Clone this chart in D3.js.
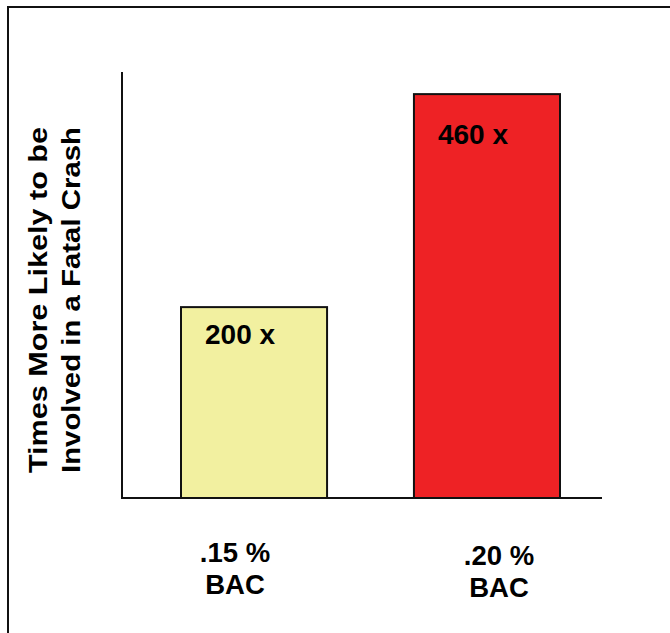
<!DOCTYPE html>
<html>
<head>
<meta charset="utf-8">
<script src="https://cdn.jsdelivr.net/npm/d3@7"></script>
<style>
  html, body { margin: 0; padding: 0; background: #fff; }
  svg { display: block; }
  text { font-family: Arial, "Liberation Sans", Helvetica, sans-serif; font-weight: bold; fill: #000; }
</style>
</head>
<body>
<svg id="chart" width="670" height="633"></svg>
<script>
// Blood alcohol level vs. relative risk of a fatal crash
const categories = [".15 %", ".20 %"];
const categoryUnit = "BAC";
const values = [200, 460];
const valueLabels = ["200 x", "460 x"];
const barColors = ["#f2f0a0", "#ee2225"];
const axisTitle = ["Times More Likely to be", "Involved in a Fatal Crash"];

const svg = d3.select("#chart");

// Outer frame
svg.append("rect")
  .attr("x", 8).attr("y", 7)
  .attr("width", 700).attr("height", 700)
  .attr("fill", "none").attr("stroke", "#111").attr("stroke-width", 2);

const x = d3.scaleBand()
  .domain(categories)
  .range([181, 560])
  .paddingInner(0.373)
  .paddingOuter(0);

const y = d3.scaleLinear()
  .domain([-33, 487])
  .range([498, 72]);

// Bars
svg.selectAll("rect.bar")
  .data(categories)
  .join("rect")
  .attr("class", "bar")
  .attr("x", d => x(d))
  .attr("y", (d, i) => y(values[i]))
  .attr("width", x.bandwidth())
  .attr("height", (d, i) => y(y.domain()[0]) - y(values[i]))
  .attr("fill", (d, i) => barColors[i])
  .attr("stroke", "#111")
  .attr("stroke-width", 2);

// Axes: plain vertical line and baseline, no ticks
const axisX = 122;
svg.append("line")
  .attr("x1", axisX).attr("x2", axisX)
  .attr("y1", y.range()[1]).attr("y2", y.range()[0])
  .attr("stroke", "#111").attr("stroke-width", 2);
svg.append("line")
  .attr("x1", axisX - 1).attr("x2", 602)
  .attr("y1", y.range()[0]).attr("y2", y.range()[0])
  .attr("stroke", "#111").attr("stroke-width", 2);

// Value labels inside bars
const labelDrop = [37, 50];
svg.selectAll("text.value")
  .data(categories)
  .join("text")
  .attr("class", "value")
  .attr("x", d => x(d) + 24)
  .attr("y", (d, i) => y(values[i]) + labelDrop[i])
  .attr("font-size", 28)
  .text((d, i) => valueLabels[i]);

// Category labels below the axis
const labelX = d3.scalePoint().domain(categories).range([235, 499]);
const labelY = [562, 565];
categories.forEach((c, i) => {
  const t = svg.append("text")
    .attr("text-anchor", "middle")
    .attr("font-size", 27.5)
    .attr("x", labelX(c))
    .attr("y", labelY[i]);
  t.append("tspan").attr("x", labelX(c)).text(c);
  t.append("tspan").attr("x", labelX(c)).attr("dy", 32).text(categoryUnit);
});

// Rotated axis title, both lines stretched to the same length
axisTitle.forEach((line, i) => {
  svg.append("text")
    .attr("text-anchor", "middle")
    .attr("font-size", 26)
    .attr("textLength", 346)
    .attr("lengthAdjust", "spacingAndGlyphs")
    .attr("transform", `translate(${47 + i * 33},300) rotate(-90)`)
    .text(line);
});
</script>
</body>
</html>
